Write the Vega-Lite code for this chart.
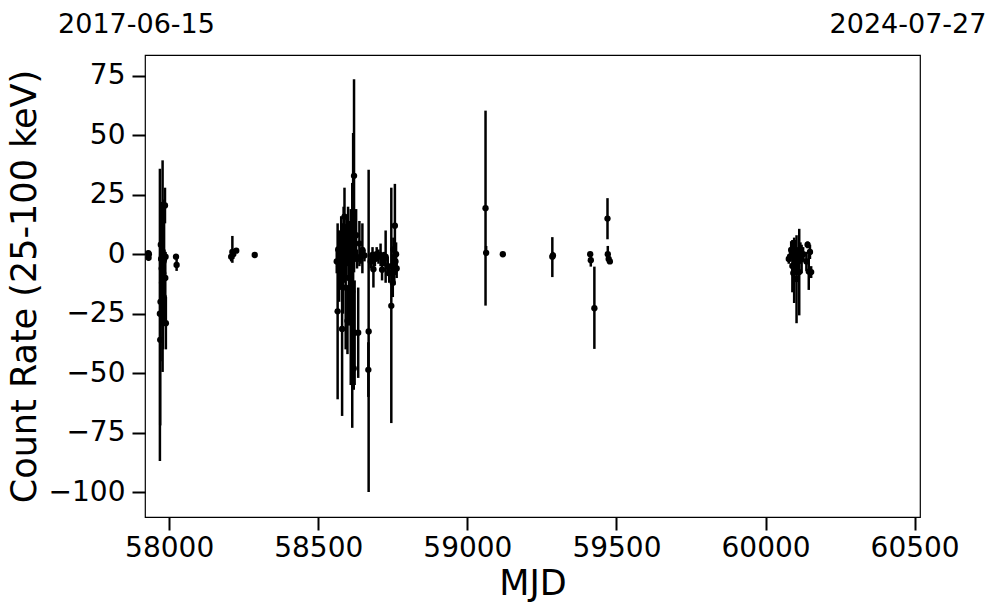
{
  "$schema": "https://vega.github.io/schema/vega-lite/v6.json",
  "width": 775,
  "height": 462,
  "autosize": {"type": "none"},
  "padding": {"left": 145, "top": 55, "right": 77, "bottom": 96},
  "background": "white",
  "config": {
    "view": {"stroke": "black", "strokeWidth": 1.2},
    "axis": {
      "labelFont": "DejaVu Sans",
      "titleFont": "DejaVu Sans",
      "labelColor": "black",
      "titleColor": "black",
      "labelFontSize": 28,
      "titleFontSize": 35,
      "titleFontWeight": "normal",
      "domain": false,
      "grid": false,
      "tickColor": "black",
      "tickWidth": 2,
      "tickSize": 13,
      "labelFlush": false,
      "labelOverlap": false
    }
  },
  "datasets": {
    "obs": [
      {"mjd": 57930, "rate": 0.5, "lo": -0.5, "hi": 1.5},
      {"mjd": 57931, "rate": -1.5, "lo": -2.5, "hi": -0.5},
      {"mjd": 57932, "rate": 0, "lo": -1, "hi": 1},
      {"mjd": 57969, "rate": -25, "lo": -87, "hi": 36},
      {"mjd": 57970, "rate": -36, "lo": -72, "hi": 0},
      {"mjd": 57971, "rate": -20, "lo": -45, "hi": 5},
      {"mjd": 57972, "rate": 4, "lo": -14, "hi": 22},
      {"mjd": 57973, "rate": -2, "lo": -16, "hi": 12},
      {"mjd": 57975, "rate": -6, "lo": -30, "hi": 18},
      {"mjd": 57976, "rate": -12, "lo": -28, "hi": 4},
      {"mjd": 57977, "rate": 1, "lo": -10, "hi": 12},
      {"mjd": 57978, "rate": -5, "lo": -49.5, "hi": 39.5},
      {"mjd": 57979, "rate": -21, "lo": -40, "hi": -2},
      {"mjd": 57980, "rate": -8, "lo": -20, "hi": 4},
      {"mjd": 57981, "rate": -3, "lo": -10, "hi": 4},
      {"mjd": 57982, "rate": -18, "lo": -30, "hi": -6},
      {"mjd": 57983, "rate": -2, "lo": -27, "hi": 23},
      {"mjd": 57984, "rate": -1, "lo": -4, "hi": 2},
      {"mjd": 57986, "rate": 20.5, "lo": 13, "hi": 28},
      {"mjd": 57987, "rate": -10, "lo": -18, "hi": -2},
      {"mjd": 57988, "rate": -1, "lo": -3, "hi": 1},
      {"mjd": 57989, "rate": -29, "lo": -40, "hi": -18},
      {"mjd": 58023, "rate": -1, "lo": -2, "hi": 0},
      {"mjd": 58025, "rate": -4.5, "lo": -7, "hi": -2},
      {"mjd": 58208, "rate": -1, "lo": -3, "hi": 1},
      {"mjd": 58212, "rate": 1, "lo": -3.6, "hi": 7.7},
      {"mjd": 58215, "rate": 0, "lo": -2, "hi": 2},
      {"mjd": 58225, "rate": 1.5, "lo": 0.5, "hi": 2.5},
      {"mjd": 58287, "rate": -0.3, "lo": -0.8, "hi": 0.2},
      {"mjd": 58562, "rate": -3, "lo": -8, "hi": 2},
      {"mjd": 58565, "rate": -24, "lo": -61, "hi": 13},
      {"mjd": 58567, "rate": 2, "lo": -6, "hi": 10},
      {"mjd": 58570, "rate": -5, "lo": -20, "hi": 10},
      {"mjd": 58574, "rate": -1, "lo": -4, "hi": 2},
      {"mjd": 58577, "rate": 0.5, "lo": -15, "hi": 16},
      {"mjd": 58580, "rate": -31.4, "lo": -68, "hi": 5},
      {"mjd": 58583, "rate": -6, "lo": -25, "hi": 13},
      {"mjd": 58585, "rate": 11.6, "lo": 3, "hi": 20},
      {"mjd": 58588, "rate": 15.8, "lo": 3.5, "hi": 28},
      {"mjd": 58590, "rate": -2.3, "lo": -12, "hi": 7},
      {"mjd": 58592, "rate": -14, "lo": -40, "hi": 12},
      {"mjd": 58595, "rate": 3, "lo": -10, "hi": 16},
      {"mjd": 58598, "rate": -28, "lo": -42, "hi": -14},
      {"mjd": 58600, "rate": 7.7, "lo": -5, "hi": 20},
      {"mjd": 58603, "rate": -10, "lo": -30, "hi": 10},
      {"mjd": 58606, "rate": 4.8, "lo": -4, "hi": 14},
      {"mjd": 58609, "rate": -17.8, "lo": -55, "hi": 19},
      {"mjd": 58612, "rate": -1, "lo": -10, "hi": 8},
      {"mjd": 58614, "rate": -15.7, "lo": -73, "hi": 30},
      {"mjd": 58617, "rate": 2, "lo": -47, "hi": 51},
      {"mjd": 58619, "rate": -48, "lo": -57, "hi": -39},
      {"mjd": 58620, "rate": 33, "lo": -7.6, "hi": 73.6},
      {"mjd": 58622, "rate": -33, "lo": -55, "hi": -11},
      {"mjd": 58627, "rate": 8, "lo": -3, "hi": 19},
      {"mjd": 58630, "rate": -2, "lo": -6, "hi": 2},
      {"mjd": 58634, "rate": -33, "lo": -52, "hi": -14},
      {"mjd": 58638, "rate": 4.5, "lo": -5, "hi": 14},
      {"mjd": 58642, "rate": -1, "lo": -4, "hi": 2},
      {"mjd": 58648, "rate": 1.8, "lo": -8, "hi": 13},
      {"mjd": 58655, "rate": -0.5, "lo": -3, "hi": 2},
      {"mjd": 58668, "rate": -48.6, "lo": -60, "hi": -37},
      {"mjd": 58669, "rate": -32.5, "lo": -100, "hi": 35.5},
      {"mjd": 58676, "rate": -3, "lo": -6, "hi": 0},
      {"mjd": 58682, "rate": -0.3, "lo": -4, "hi": 3},
      {"mjd": 58685, "rate": -6.3, "lo": -14, "hi": 1},
      {"mjd": 58690, "rate": -2, "lo": -5, "hi": 1},
      {"mjd": 58696, "rate": 0, "lo": -3, "hi": 3},
      {"mjd": 58702, "rate": -1, "lo": -4, "hi": 2},
      {"mjd": 58709, "rate": -0.3, "lo": -5, "hi": 4.5},
      {"mjd": 58714, "rate": -6.5, "lo": -11, "hi": -2},
      {"mjd": 58720, "rate": -2, "lo": -5, "hi": 1},
      {"mjd": 58726, "rate": -1, "lo": -12, "hi": 10},
      {"mjd": 58733, "rate": -5, "lo": -9, "hi": -1},
      {"mjd": 58738, "rate": -8, "lo": -12, "hi": -4},
      {"mjd": 58745, "rate": -21.7, "lo": -71, "hi": 28},
      {"mjd": 58748, "rate": -5, "lo": -10, "hi": 0},
      {"mjd": 58750, "rate": -12, "lo": -18, "hi": -6},
      {"mjd": 58752, "rate": 2, "lo": -3, "hi": 7},
      {"mjd": 58755, "rate": -7.5, "lo": -13, "hi": -2},
      {"mjd": 58757, "rate": 12, "lo": -5.6, "hi": 29.6},
      {"mjd": 58759, "rate": -3, "lo": -7, "hi": 1},
      {"mjd": 58761, "rate": 0, "lo": -5, "hi": 5},
      {"mjd": 58763, "rate": -6, "lo": -10, "hi": -2},
      {"mjd": 59061, "rate": 19.4, "lo": -21.6, "hi": 60.4},
      {"mjd": 59063, "rate": 0.6, "lo": -0.7, "hi": 3.5},
      {"mjd": 59119, "rate": 0, "lo": -0.5, "hi": 0.5},
      {"mjd": 59285, "rate": -1, "lo": -9.6, "hi": 7.2},
      {"mjd": 59287, "rate": -0.5, "lo": -2, "hi": 1},
      {"mjd": 59412, "rate": 0, "lo": -1, "hi": 1},
      {"mjd": 59414, "rate": -2.5, "lo": -5.2, "hi": 0.7},
      {"mjd": 59426, "rate": -22.7, "lo": -39.8, "hi": -5.2},
      {"mjd": 59470, "rate": 15, "lo": 6.3, "hi": 23.6},
      {"mjd": 59471, "rate": 0, "lo": -1, "hi": 3.5},
      {"mjd": 59474, "rate": -2, "lo": -3, "hi": -1},
      {"mjd": 59478, "rate": -3, "lo": -4, "hi": -2},
      {"mjd": 60078, "rate": -2, "lo": -4, "hi": 0},
      {"mjd": 60082, "rate": -1, "lo": -3, "hi": 1},
      {"mjd": 60086, "rate": 1.8, "lo": -2, "hi": 5.5},
      {"mjd": 60090, "rate": -4.9, "lo": -16, "hi": 6},
      {"mjd": 60093, "rate": -7.9, "lo": -15, "hi": -1},
      {"mjd": 60096, "rate": -6.6, "lo": -20.5, "hi": 7},
      {"mjd": 60100, "rate": -1, "lo": -8, "hi": 6},
      {"mjd": 60104, "rate": -10.4, "lo": -29, "hi": 8},
      {"mjd": 60108, "rate": -3, "lo": -9, "hi": 3},
      {"mjd": 60113, "rate": -7.5, "lo": -25.7, "hi": 10.7},
      {"mjd": 60117, "rate": 0.5, "lo": -4, "hi": 5},
      {"mjd": 60121, "rate": -2, "lo": -8, "hi": 4},
      {"mjd": 60126, "rate": 0, "lo": -3, "hi": 3},
      {"mjd": 60137, "rate": -3, "lo": -7, "hi": 1},
      {"mjd": 60141, "rate": 4, "lo": 2.5, "hi": 5.4},
      {"mjd": 60145, "rate": -7.3, "lo": -15, "hi": 0},
      {"mjd": 60149, "rate": 1, "lo": -2, "hi": 4},
      {"mjd": 60153, "rate": -7.5, "lo": -10, "hi": -5}
    ],
    "edges": [
      {"mjd": 57919, "label": "2017-06-15"},
      {"mjd": 60518, "label": "2024-07-27"}
    ]
  },
  "layer": [
    {
      "data": {"name": "obs"},
      "mark": {"type": "rule", "color": "black", "strokeWidth": 2.5},
      "encoding": {
        "x": {
          "field": "mjd",
          "type": "quantitative",
          "scale": {"domain": [57919, 60518], "nice": false, "zero": false},
          "axis": {
            "orient": "bottom",
            "values": [58000, 58500, 59000, 59500, 60000, 60500],
            "format": "d",
            "title": "MJD",
            "labelFontSize": 28,
            "titleFontSize": 35,
            "labelPadding": 4,
            "titlePadding": 4
          }
        },
        "y": {
          "field": "lo",
          "type": "quantitative",
          "scale": {"domain": [-110.5, 83.8], "nice": false, "zero": false},
          "axis": {
            "values": [-100, -75, -50, -25, 0, 25, 50, 75],
            "title": "Count Rate (25-100 keV)",
            "labelFontSize": 28,
            "titleFontSize": 35,
            "labelPadding": 7,
            "titlePadding": 6
          }
        },
        "y2": {"field": "hi"}
      }
    },
    {
      "mark": {"type": "rule", "strokeDash": [10, 4], "strokeWidth": 2, "color": "black"},
      "encoding": {"y": {"datum": 0}}
    },
    {
      "data": {"name": "obs"},
      "mark": {"type": "circle", "color": "black", "opacity": 1, "size": 40},
      "encoding": {
        "x": {"field": "mjd", "type": "quantitative", "axis": null},
        "y": {"field": "rate", "type": "quantitative"}
      }
    },
    {
      "data": {"name": "edges"},
      "mark": {"type": "tick", "opacity": 0},
      "encoding": {
        "x": {
          "field": "mjd",
          "type": "quantitative",
          "axis": {
            "orient": "top",
            "values": [57919, 60518],
            "labelExpr": "datum.value < 59000 ? '2017-06-15' : '2024-07-27'",
            "ticks": false,
            "tickSize": 0,
            "labelPadding": 23,
            "labelBaseline": "alphabetic",
            "labelFontSize": 27,
            "labelOffset": {"condition": {"test": "datum.value < 59000", "value": -9}, "value": -12.5},
            "title": null
          }
        }
      }
    }
  ],
  "resolve": {"axis": {"x": "independent"}}
}
